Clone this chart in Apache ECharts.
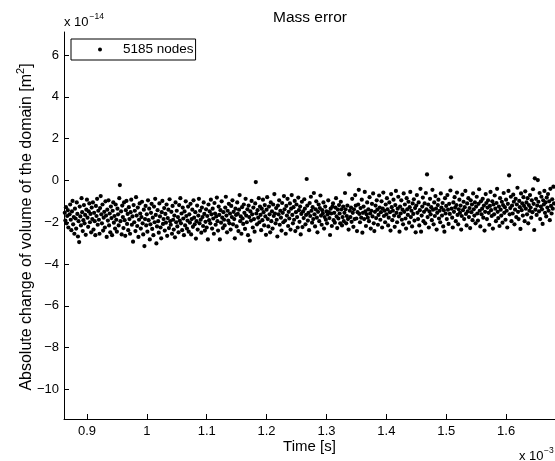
<!DOCTYPE html>
<html>
<head>
<meta charset="utf-8">
<script src="https://cdn.jsdelivr.net/npm/echarts@6/dist/echarts.min.js"></script>
<style>html,body{margin:0;padding:0;background:#fff}#c{width:555px;height:461px}</style>
</head>
<body>
<div id="c"></div>
<script>
// Time in units of 1e-3 s, change of volume in units of 1e-14 m^2
const xTicks = [0.9, 1, 1.1, 1.2, 1.3, 1.4, 1.5, 1.6];
const yTicks = [-10, -8, -6, -4, -2, 0, 2, 4, 6];
const seriesName = '5185 nodes';
const samples = [
[0.863,-1.55],[0.864,-1.92],[0.865,-1.28],[0.866,-2.05],[0.867,-1.70],[0.868,-1.42],[0.869,-2.25],
[0.871,-1.62],[0.872,-1.15],[0.873,-1.88],[0.874,-2.38],[0.875,-1.48],[0.876,-0.98],[0.877,-2.10],[0.878,-1.75],[0.879,-2.55],
[0.880,-1.35],[0.881,-1.82],[0.882,-2.30],[0.883,-1.05],[0.884,-1.60],[0.885,-2.68],[0.886,-1.95],[0.887,-2.95],[0.888,-1.25],[0.889,-1.72],
[0.890,-2.15],[0.891,-0.85],[0.892,-1.52],[0.893,-2.42],[0.894,-1.90],[0.895,-1.18],[0.896,-2.05],[0.897,-1.65],[0.898,-2.60],[0.899,-1.40],
[0.900,-0.92],[0.901,-1.78],[0.902,-2.22],[0.903,-1.48],[0.904,-1.10],[0.905,-2.00],[0.906,-1.60],[0.907,-2.48],[0.908,-1.30],[0.909,-1.85],
[0.910,-1.05],[0.911,-2.35],[0.912,-1.55],[0.913,-1.95],[0.914,-2.62],[0.915,-1.22],[0.916,-1.70],[0.917,-0.88],[0.918,-2.12],[0.919,-1.45],
[0.920,-1.88],[0.921,-2.55],[0.922,-1.32],[0.923,-0.75],[0.924,-1.62],[0.925,-2.05],[0.926,-1.15],[0.927,-2.40],[0.928,-1.78],[0.929,-1.50],
[0.930,-2.25],[0.931,-1.00],[0.932,-1.68],[0.933,-2.70],[0.934,-1.40],[0.935,-1.92],[0.936,-0.95],[0.937,-2.15],[0.938,-1.58],[0.939,-2.48],
[0.940,-1.25],[0.941,-1.80],[0.942,-2.62],[0.943,-1.45],[0.944,-1.05],[0.945,-2.02],[0.946,-1.70],[0.947,-2.30],[0.948,-1.15],[0.949,-1.88],
[0.950,-2.45],[0.951,-1.35],[0.952,-1.62],[0.953,-2.15],[0.954,-0.85],[0.955,-0.22],[0.956,-1.95],[0.957,-1.48],[0.958,-2.58],[0.959,-1.20],
[0.960,-1.75],[0.961,-2.28],[0.962,-1.05],[0.963,-1.90],[0.964,-2.65],[0.965,-1.42],[0.966,-0.98],[0.967,-2.08],[0.968,-1.60],[0.969,-2.38],
[0.970,-1.28],[0.971,-1.85],[0.972,-2.55],[0.973,-1.52],[0.974,-0.92],[0.975,-2.12],[0.976,-1.72],[0.977,-2.93],[0.978,-1.18],[0.979,-2.00],
[0.980,-1.45],[0.981,-2.42],[0.982,-0.80],[0.983,-1.68],[0.984,-2.18],[0.985,-1.30],[0.986,-2.70],[0.987,-1.88],[0.988,-1.10],[0.989,-1.58],
[0.990,-2.30],[0.991,-1.75],[0.992,-1.02],[0.993,-2.05],[0.994,-2.58],[0.995,-1.40],[0.996,-3.14],[0.997,-1.85],[0.998,-1.22],[0.999,-2.15],
[1.000,-1.62],[1.001,-2.45],[1.002,-0.95],[1.003,-1.90],[1.004,-1.35],[1.005,-2.82],[1.006,-2.10],[1.007,-1.55],[1.008,-1.12],[1.009,-2.32],
[1.010,-1.78],[1.011,-2.62],[1.012,-1.25],[1.013,-2.00],[1.014,-0.88],[1.015,-1.65],[1.016,-3.01],[1.017,-2.20],[1.018,-1.42],[1.019,-1.95],
[1.020,-2.50],[1.021,-1.10],[1.022,-1.72],[1.023,-2.25],[1.024,-2.77],[1.025,-1.52],[1.026,-0.98],[1.027,-2.08],[1.028,-1.85],[1.029,-1.32],
[1.030,-2.40],[1.031,-1.60],[1.032,-2.02],[1.033,-1.15],[1.034,-2.65],[1.035,-1.80],[1.036,-1.40],[1.037,-2.28],[1.038,-0.90],[1.039,-1.95],
[1.040,-2.12],[1.041,-1.50],[1.042,-2.55],[1.043,-1.22],[1.044,-1.88],[1.045,-2.35],[1.046,-1.68],[1.047,-2.72],[1.048,-1.05],[1.049,-2.00],
[1.050,-1.45],[1.051,-2.20],[1.052,-1.75],[1.053,-2.48],[1.054,-1.18],[1.055,-1.92],[1.056,-0.85],[1.057,-2.05],[1.058,-1.58],[1.059,-2.38],
[1.060,-1.30],[1.061,-1.82],[1.062,-2.62],[1.063,-1.48],[1.064,-2.15],[1.065,-1.00],[1.066,-1.70],[1.067,-2.30],[1.068,-1.92],[1.069,-1.25],
[1.070,-2.45],[1.071,-1.62],[1.072,-2.02],[1.073,-1.12],[1.074,-2.58],[1.075,-1.85],[1.076,-1.40],[1.077,-2.22],[1.078,-0.95],[1.079,-1.78],
[1.080,-2.10],[1.081,-1.52],[1.082,-2.78],[1.083,-1.95],[1.084,-1.20],[1.085,-2.35],[1.086,-1.68],[1.087,-0.88],[1.088,-2.05],[1.089,-1.45],
[1.090,-1.88],[1.091,-2.50],[1.092,-1.30],[1.093,-1.75],[1.094,-2.18],[1.095,-1.05],[1.096,-1.60],[1.097,-2.40],[1.098,-1.98],[1.099,-1.38],
[1.100,-2.25],[1.101,-1.70],[1.102,-2.82],[1.103,-1.15],[1.104,-1.90],[1.105,-1.48],[1.106,-2.05],[1.107,-0.92],[1.108,-1.62],[1.109,-2.30],
[1.110,-1.35],[1.111,-1.82],[1.112,-2.55],[1.113,-1.08],[1.114,-1.58],[1.115,-2.12],[1.116,-1.72],[1.117,-0.82],[1.118,-1.95],[1.119,-2.40],
[1.120,-1.25],[1.121,-1.65],[1.122,-2.82],[1.123,-1.42],[1.124,-2.02],[1.125,-1.00],[1.126,-1.78],[1.127,-2.28],[1.128,-1.52],[1.129,-1.88],
[1.130,-2.15],[1.131,-1.30],[1.132,-0.78],[1.133,-1.68],[1.134,-2.48],[1.135,-1.45],[1.136,-1.92],[1.137,-1.12],[1.138,-2.05],[1.139,-1.58],
[1.140,-2.35],[1.141,-1.22],[1.142,-1.75],[1.143,-0.95],[1.144,-2.10],[1.145,-1.50],[1.146,-1.85],[1.147,-2.77],[1.148,-1.35],[1.149,-1.65],
[1.150,-2.20],[1.151,-1.05],[1.152,-1.60],[1.153,-2.42],[1.154,-1.40],[1.155,-0.70],[1.156,-1.95],[1.157,-1.72],[1.158,-2.55],[1.159,-1.28],
[1.160,-1.82],[1.161,-2.08],[1.162,-1.15],[1.163,-1.55],[1.164,-2.32],[1.165,-0.88],[1.166,-1.68],[1.167,-2.00],[1.168,-1.38],[1.169,-2.62],
[1.170,-1.20],[1.171,-1.75],[1.172,-2.88],[1.173,-1.48],[1.174,-1.92],[1.175,-0.98],[1.176,-1.62],[1.177,-2.25],[1.178,-1.30],[1.179,-1.85],
[1.180,-2.45],[1.181,-1.10],[1.182,-0.08],[1.183,-1.58],[1.184,-2.10],[1.185,-1.42],[1.186,-1.78],[1.187,-0.85],[1.188,-2.00],[1.189,-1.25],
[1.190,-1.65],[1.191,-2.38],[1.192,-1.35],[1.193,-1.90],[1.194,-0.92],[1.195,-1.52],[1.196,-2.15],[1.197,-1.18],[1.198,-1.72],[1.199,-2.60],
[1.200,-1.40],[1.201,-0.80],[1.202,-1.85],[1.203,-2.20],[1.204,-1.25],[1.205,-1.62],[1.206,-2.48],[1.207,-1.05],[1.208,-1.95],[1.209,-1.48],
[1.210,-2.30],[1.211,-1.15],[1.212,-1.70],[1.213,-0.65],[1.214,-1.58],[1.215,-2.05],[1.216,-1.32],[1.217,-1.88],[1.218,-2.68],[1.219,-1.20],
[1.220,-1.62],[1.221,-0.95],[1.222,-2.12],[1.223,-1.45],[1.224,-1.78],[1.225,-2.40],[1.226,-1.08],[1.227,-1.55],[1.228,-2.00],[1.229,-0.75],
[1.230,-1.38],[1.231,-1.92],[1.232,-2.55],[1.233,-1.22],[1.234,-1.68],[1.235,-0.88],[1.236,-2.18],[1.237,-1.50],[1.238,-1.82],[1.239,-1.10],
[1.240,-2.35],[1.241,-1.35],[1.242,-0.70],[1.243,-1.65],[1.244,-2.05],[1.245,-1.28],[1.246,-1.88],[1.247,-0.98],[1.248,-2.42],[1.249,-1.52],
[1.250,-1.15],[1.251,-1.75],[1.252,-2.25],[1.253,-0.82],[1.254,-1.42],[1.255,-1.98],[1.256,-1.25],[1.257,-2.58],[1.258,-1.60],[1.259,-1.02],
[1.260,-2.23],[1.261,-1.48],[1.262,-1.80],[1.263,-0.90],[1.264,-1.35],[1.265,-2.10],[1.266,-1.65],[1.267,0.07],[1.268,-1.20],[1.269,-1.92],
[1.270,-1.55],[1.271,-2.38],[1.272,-1.08],[1.273,-1.70],[1.274,-0.78],[1.275,-1.45],[1.276,-2.02],[1.277,-1.28],[1.278,-1.85],[1.279,-0.60],
[1.280,-1.62],[1.281,-2.20],[1.282,-1.38],[1.283,-1.00],[1.284,-1.78],[1.285,-2.48],[1.286,-1.50],[1.287,-1.15],[1.288,-1.95],[1.289,-1.32],
[1.290,-0.72],[1.291,-1.68],[1.292,-2.12],[1.293,-1.42],[1.294,-1.58],[1.295,-1.05],[1.296,-2.30],[1.297,-1.75],[1.298,-1.25],[1.299,-1.88],
[1.300,-1.48],[1.301,-2.05],[1.302,-1.62],[1.303,-0.95],[1.304,-1.52],[1.305,-1.80],[1.306,-2.61],[1.307,-1.35],[1.308,-1.58],[1.309,-2.18],
[1.310,-1.25],[1.311,-1.10],[1.312,-1.90],[1.313,-1.55],[1.314,-2.02],[1.315,-1.30],[1.316,-0.85],[1.317,-1.72],[1.318,-2.28],[1.319,-1.40],
[1.320,-1.82],[1.321,-1.18],[1.322,-1.58],[1.323,-2.05],[1.324,-1.02],[1.325,-1.38],[1.326,-2.15],[1.327,-1.75],[1.328,-1.25],[1.329,-1.95],
[1.330,-1.55],[1.331,-0.60],[1.332,-1.38],[1.333,-2.05],[1.334,-1.70],[1.335,-1.20],[1.336,-1.85],[1.337,-2.35],[1.338,0.29],[1.339,-1.45],
[1.340,-1.75],[1.341,-1.30],[1.342,-1.98],[1.343,-0.88],[1.344,-1.55],[1.345,-2.22],[1.346,-1.38],[1.347,-1.85],[1.348,-0.70],[1.349,-1.20],
[1.350,-1.82],[1.351,-2.42],[1.352,-1.52],[1.353,-1.15],[1.354,-0.45],[1.355,-1.60],[1.356,-2.00],[1.357,-1.32],[1.358,-1.78],[1.359,-0.92],
[1.360,-2.50],[1.361,-1.55],[1.362,-1.25],[1.363,-1.85],[1.364,-0.55],[1.365,-1.48],[1.366,-2.18],[1.367,-1.62],[1.368,-1.05],[1.369,-1.78],
[1.370,-1.38],[1.371,-1.95],[1.372,-0.80],[1.373,-1.58],[1.374,-2.30],[1.375,-1.45],[1.376,-1.12],[1.377,-1.72],[1.378,-0.62],[1.379,-2.05],
[1.380,-2.42],[1.381,-1.50],[1.382,-1.20],[1.383,-1.80],[1.384,-0.95],[1.385,-1.40],[1.386,-2.12],[1.387,-1.65],[1.388,-0.72],[1.389,-1.30],
[1.390,-1.88],[1.391,-1.52],[1.392,-1.00],[1.393,-2.25],[1.394,-1.35],[1.395,-0.58],[1.396,-1.70],[1.397,-1.45],[1.398,-2.00],[1.399,-1.15],
[1.400,-1.62],[1.401,-0.85],[1.402,-1.38],[1.403,-2.15],[1.404,-1.78],[1.405,-1.05],[1.406,-1.52],[1.407,-2.40],[1.408,-0.65],[1.409,-1.28],
[1.410,-1.90],[1.411,-1.45],[1.412,-0.92],[1.413,-1.68],[1.414,-2.22],[1.415,-1.18],[1.416,-0.50],[1.417,-1.55],[1.418,-2.00],[1.419,-1.35],
[1.420,-0.78],[1.421,-1.72],[1.422,-2.45],[1.423,-1.25],[1.424,-1.58],[1.425,-0.95],[1.426,-1.88],[1.427,-1.40],[1.428,-2.10],[1.429,-0.62],
[1.430,-1.50],[1.431,-1.15],[1.432,-1.82],[1.433,-2.30],[1.434,-0.85],[1.435,-1.38],[1.436,-1.65],[1.437,-1.02],[1.438,-2.02],[1.439,-1.28],
[1.440,-0.55],[1.441,-1.75],[1.442,-1.45],[1.443,-2.20],[1.444,-1.10],[1.445,-1.60],[1.446,-0.90],[1.447,-1.92],[1.448,-1.32],[1.449,-2.48],
[1.450,-1.20],[1.451,-0.70],[1.452,-1.55],[1.453,-1.85],[1.454,-1.05],[1.455,-2.15],[1.456,-1.42],[1.457,-0.40],[1.458,-2.45],[1.459,-1.68],
[1.460,-1.25],[1.461,-0.82],[1.462,-1.95],[1.463,-1.50],[1.464,-1.10],[1.465,-2.05],[1.466,-0.60],[1.467,-1.38],[1.468,0.29],[1.469,-1.75],
[1.470,-1.15],[1.471,-2.25],[1.472,-1.48],[1.473,-0.88],[1.474,-1.62],[1.475,-1.28],[1.476,-1.90],[1.477,-0.45],[1.478,-1.40],[1.479,-2.10],
[1.480,-1.05],[1.481,-1.70],[1.482,-0.75],[1.483,-1.35],[1.484,-2.35],[1.485,-1.55],[1.486,-1.18],[1.487,-0.92],[1.488,-1.82],[1.489,-1.45],
[1.490,-2.00],[1.491,-0.62],[1.492,-1.30],[1.493,-1.68],[1.494,-1.08],[1.495,-2.20],[1.496,-1.42],[1.497,-2.45],[1.498,-0.85],[1.499,-1.58],
[1.500,-1.22],[1.501,-1.85],[1.502,-0.70],[1.503,-1.40],[1.504,-2.08],[1.505,-1.12],[1.506,-1.60],[1.507,-0.48],[1.508,0.15],[1.509,-1.35],
[1.510,-1.78],[1.511,-2.25],[1.512,-1.05],[1.513,-1.50],[1.514,-0.80],[1.515,-1.30],[1.516,-1.95],[1.517,-1.18],[1.518,-0.58],[1.519,-1.65],
[1.520,-2.10],[1.521,-1.38],[1.522,-0.92],[1.523,-1.55],[1.524,-1.20],[1.525,-2.35],[1.526,-1.70],[1.527,-0.68],[1.528,-1.42],[1.529,-1.02],
[1.530,-1.85],[1.531,-1.28],[1.532,-0.50],[1.533,-1.60],[1.534,-2.15],[1.535,-1.10],[1.536,-1.48],[1.537,-0.85],[1.538,-1.75],[1.539,-1.32],
[1.540,-2.28],[1.541,-0.95],[1.542,-1.52],[1.543,-1.15],[1.544,-1.90],[1.545,-0.62],[1.546,-1.38],[1.547,-1.68],[1.548,-1.05],[1.549,-2.05],
[1.550,-1.25],[1.551,-0.78],[1.552,-1.58],[1.553,-1.92],[1.554,-1.12],[1.555,-0.42],[1.556,-1.45],[1.557,-2.20],[1.558,-1.00],[1.559,-1.62],
[1.560,-1.35],[1.561,-0.88],[1.562,-1.78],[1.563,-1.20],[1.564,-2.40],[1.565,-1.50],[1.566,-0.65],[1.567,-1.08],[1.568,-1.85],[1.569,-1.30],
[1.570,-0.95],[1.571,-1.55],[1.572,-2.12],[1.573,-1.22],[1.574,-0.55],[1.575,-1.42],[1.576,-1.70],[1.577,-1.00],[1.578,-2.30],[1.579,-1.15],
[1.580,-1.62],[1.581,-0.72],[1.582,-1.35],[1.583,-1.95],[1.584,-1.08],[1.585,-0.40],[1.586,-1.50],[1.587,-1.80],[1.588,-1.25],[1.589,-2.18],
[1.590,-0.85],[1.591,-1.40],[1.592,-1.68],[1.593,-1.02],[1.594,-2.02],[1.595,-1.18],[1.596,-0.60],[1.597,-1.55],[1.598,-1.28],[1.599,-1.88],
[1.600,-0.92],[1.601,-1.45],[1.602,-2.25],[1.603,-1.12],[1.604,-0.50],[1.605,0.24],[1.606,-1.62],[1.607,-1.32],[1.608,-0.78],[1.609,-1.95],
[1.610,-1.20],[1.611,-1.58],[1.612,-0.68],[1.613,-1.02],[1.614,-2.10],[1.615,-1.40],[1.616,-0.88],[1.617,-1.75],[1.618,-1.15],[1.619,-0.35],
[1.620,-1.50],[1.621,-1.85],[1.622,-0.98],[1.623,-1.28],[1.624,-2.32],[1.625,-0.62],[1.626,-1.42],[1.627,-1.10],[1.628,-1.68],[1.629,-0.80],
[1.630,-1.22],[1.631,-1.95],[1.632,-0.52],[1.633,-1.35],[1.634,-1.05],[1.635,-1.62],[1.636,-0.85],[1.637,-2.05],[1.638,-1.18],[1.639,-1.45],
[1.640,-0.70],[1.641,-1.30],[1.642,-1.78],[1.643,-0.95],[1.644,-1.52],[1.645,-0.42],[1.646,-1.12],[1.647,-2.37],[1.648,0.10],[1.649,-1.40],
[1.650,-0.88],[1.651,-1.65],[1.652,-1.20],[1.653,0.02],[1.654,-1.02],[1.655,-1.48],[1.656,-0.60],[1.657,-1.85],[1.658,-1.25],[1.659,-0.78],
[1.660,-1.38],[1.661,-2.08],[1.662,-0.95],[1.663,-1.15],[1.664,-0.50],[1.665,-1.55],[1.666,-1.05],[1.667,-1.72],[1.668,-0.82],[1.669,-1.30],
[1.670,-0.65],[1.671,-1.45],[1.672,-1.00],[1.673,-1.90],[1.674,-0.40],[1.675,-1.22],[1.676,-1.58],[1.677,-0.90],[1.678,-1.35],[1.679,-0.30],[1.680,-1.10]
];

const FONT = '"Liberation Sans", Arial, Helvetica, sans-serif';
const chart = echarts.init(document.getElementById('c'), null, {renderer: 'canvas'});

function fmtNum(v) {
  const s = String(Math.round(v * 1000) / 1000);
  return v < 0 ? '\u2212' + s.slice(1) : s;
}

// y-axis label pieces (measured for centering)
const ylFont = 16, ylSup = 11;
const mctx = document.createElement('canvas').getContext('2d');
function tw(t, size) { mctx.font = size + 'px ' + FONT; return mctx.measureText(t).width; }
const yl1 = 'Absolute change of volume of the domain [m', yl2 = '2', yl3 = ']';
const w1 = tw(yl1, ylFont), w2 = tw(yl2, ylSup), w3 = tw(yl3, ylFont);
const W = w1 + w2 + w3;

const option = {
  animation: false,
  backgroundColor: '#fff',
  grid: {left: 64, right: 0, top: 32, bottom: 42},
  legend: {
    left: 71, top: 39,
    data: [seriesName],
    selectedMode: false,
    backgroundColor: '#fff',
    borderColor: '#000', borderWidth: 1, borderRadius: 0,
    padding: [3, 2, 3, 27],
    itemWidth: 4, itemHeight: 4,
    itemStyle: {opacity: 1},
    textStyle: {color: '#000', fontSize: 13.5, fontFamily: FONT, lineHeight: 15, padding: [0, 0, 0, 16]}
  },
  xAxis: {
    type: 'value', min: 0.8617, max: 1.6817,
    axisLine: {show: true, onZero: false, lineStyle: {color: '#000', width: 1}},
    axisTick: {show: true, inside: true, length: 5, customValues: xTicks, lineStyle: {color: '#000'}},
    axisLabel: {customValues: xTicks, color: '#000', fontSize: 13, fontFamily: FONT, margin: 6, formatter: fmtNum},
    splitLine: {show: false}
  },
  yAxis: {
    type: 'value', min: -11.41, max: 7.1,
    axisLine: {show: true, onZero: false, lineStyle: {color: '#000', width: 1}},
    axisTick: {show: true, inside: true, length: 5, customValues: yTicks, lineStyle: {color: '#000'}},
    axisLabel: {customValues: yTicks, color: '#000', fontSize: 13, fontFamily: FONT, margin: 5, formatter: fmtNum},
    splitLine: {show: false}
  },
  series: [{
    name: seriesName,
    type: 'scatter',
    symbol: 'circle',
    symbolSize: 4.2,
    itemStyle: {color: '#000', opacity: 1},
    data: samples
  }],
  graphic: [
    {type: 'text', x: 310, y: 17.6, style: {text: 'Mass error', fontSize: 15.5, fontFamily: FONT, fill: '#000', align: 'center', verticalAlign: 'middle'}},
    {type: 'text', x: 64, y: 22.5, style: {text: 'x 10', fontSize: 13, fontFamily: FONT, fill: '#000', align: 'left', verticalAlign: 'middle'}},
    {type: 'text', x: 89.5, y: 17, style: {text: '\u221214', fontSize: 8.5, fontFamily: FONT, fill: '#000', align: 'left', verticalAlign: 'middle'}},
    {type: 'text', x: 309.5, y: 447, style: {text: 'Time [s]', fontSize: 15, fontFamily: FONT, fill: '#000', align: 'center', verticalAlign: 'middle'}},
    {type: 'text', x: 519, y: 456, style: {text: 'x 10', fontSize: 13, fontFamily: FONT, fill: '#000', align: 'left', verticalAlign: 'middle'}},
    {type: 'text', x: 544, y: 450.5, style: {text: '\u22123', fontSize: 8.5, fontFamily: FONT, fill: '#000', align: 'left', verticalAlign: 'middle'}},
    {
      type: 'group', x: 27, y: 227, rotation: Math.PI / 2,
      children: [
        {type: 'text', x: -W / 2, y: 0, style: {text: yl1, fontSize: ylFont, fontFamily: FONT, fill: '#000', align: 'left', verticalAlign: 'middle'}},
        {type: 'text', x: -W / 2 + w1, y: -6, style: {text: yl2, fontSize: ylSup, fontFamily: FONT, fill: '#000', align: 'left', verticalAlign: 'middle'}},
        {type: 'text', x: -W / 2 + w1 + w2, y: 0, style: {text: yl3, fontSize: ylFont, fontFamily: FONT, fill: '#000', align: 'left', verticalAlign: 'middle'}}
      ]
    }
  ]
};
chart.setOption(option);
</script>
</body>
</html>
